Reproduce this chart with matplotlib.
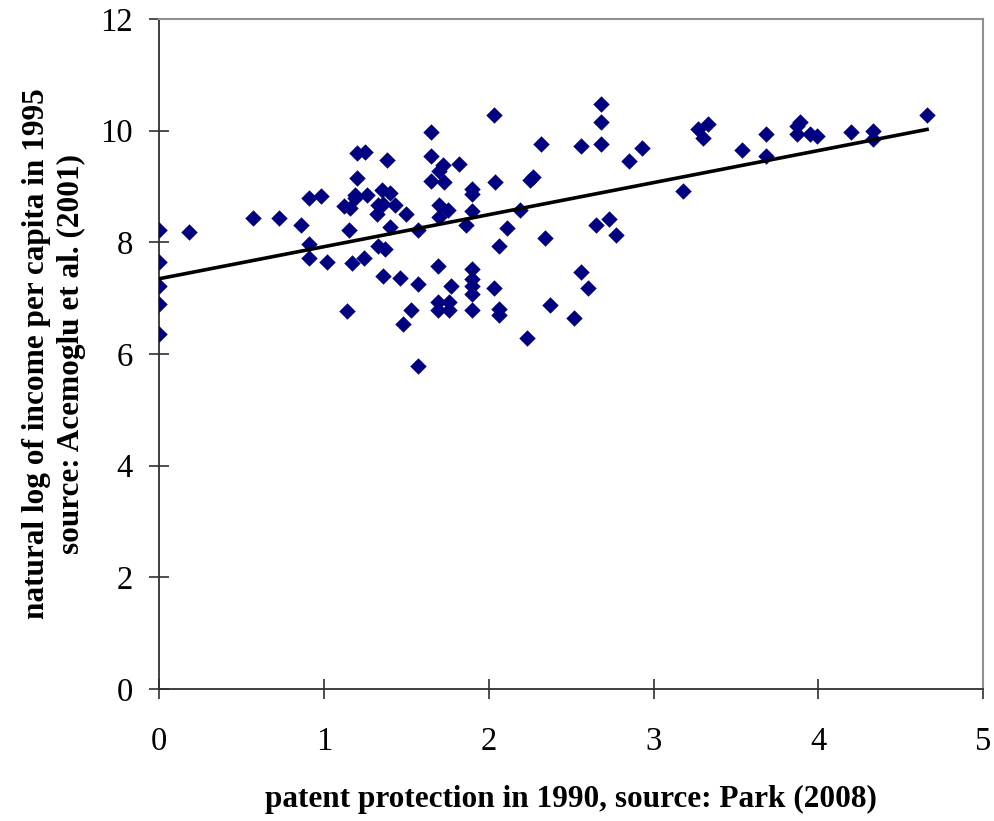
import numpy as np
import matplotlib
matplotlib.use('Agg')
import matplotlib.pyplot as plt

# Дані: індекс патентного захисту (1990) та лог доходу (1995)
patent_index = [
    0, 0, 0, 0, 0, 0.18, 0.57, 0.73, 0.86, 0.91, 0.98, 0.91, 0.91, 1.02,
    1.14, 1.15, 1.12, 1.16, 1.20, 1.20, 1.25, 1.38, 1.19, 1.19, 1.26, 1.35,
    1.40, 1.33, 1.36, 1.43, 1.32, 1.50, 1.40, 1.33, 1.37, 1.24, 1.17, 1.36,
    1.46, 1.53, 1.48, 1.57, 1.57, 1.57, 1.65, 1.65, 1.72, 1.70, 1.82, 1.65,
    1.73, 1.90, 1.90, 2.03, 2.04, 1.70, 1.75, 1.70, 1.90, 1.86, 2.11, 2.06,
    2.19, 2.25, 2.27, 2.32, 2.34, 2.56, 2.68, 2.68, 2.68, 2.85, 2.93, 2.65,
    2.73, 2.77, 1.69, 1.90, 1.90, 1.90, 1.90, 1.77, 2.03, 1.69, 1.76, 1.69,
    1.76, 1.90, 2.06, 2.06, 2.37, 2.56, 2.60, 2.52, 2.23, 3.18, 3.27, 3.33,
    3.30, 3.54, 3.68, 3.68, 3.89, 3.87, 3.87, 3.95, 3.99, 4.20, 4.33, 4.33,
    4.66,
]
log_income = [
    8.22, 7.65, 7.22, 6.90, 6.36, 8.18, 8.44, 8.44, 8.30, 8.79, 8.83, 7.97,
    7.72, 7.65, 6.76, 8.22, 8.65, 8.62, 9.15, 9.60, 9.62, 9.47, 8.85, 8.79,
    8.84, 8.93, 8.88, 8.67, 8.69, 8.66, 8.50, 8.51, 8.27, 7.94, 7.88, 7.72,
    7.62, 7.40, 7.36, 6.79, 6.54, 5.79, 7.25, 8.22, 9.98, 9.55, 9.39, 9.28,
    9.40, 9.09, 9.08, 8.96, 8.87, 10.27, 9.08, 8.66, 8.57, 8.45, 8.55, 8.30,
    8.26, 7.94, 8.58, 9.11, 9.17, 9.76, 8.08, 9.73, 10.48, 10.16, 9.76, 9.45,
    9.69, 8.30, 8.41, 8.12, 7.58, 7.52, 7.34, 7.22, 7.08, 7.22, 7.18, 6.93,
    6.93, 6.78, 6.78, 6.79, 6.81, 6.70, 6.87, 7.47, 7.18, 6.64, 6.29, 8.91,
    10.03, 10.12, 9.86, 9.66, 9.94, 9.54, 10.16, 10.09, 9.94, 9.94, 9.90,
    9.98, 10.00, 9.85, 10.27,
]

x = np.array(patent_index)
y = np.array(log_income)

plt.rcParams['font.family'] = ['Liberation Serif', 'DejaVu Serif']

fig = plt.figure(figsize=(9.95, 8.21), dpi=100)
ax = fig.add_axes([0.160, 0.161, 0.828, 0.816])

ax.scatter(x, y, marker='D', s=70, color='#000080', zorder=3, linewidths=0)

# Лінійний тренд
slope, intercept = np.polyfit(x, y, 1)
x_line = np.array([x.min(), x.max()])
ax.plot(x_line, intercept + slope * x_line, color='black', lw=2.6, zorder=4)

ax.set_xlim(0, 5)
ax.set_ylim(0, 12)
ax.set_xticks(range(0, 6))
ax.set_yticks(range(0, 13, 2))

for side in ('top', 'right'):
    ax.spines[side].set_color('#909090')
    ax.spines[side].set_linewidth(1.5)
for side in ('left', 'bottom'):
    ax.spines[side].set_color('#303030')
    ax.spines[side].set_linewidth(1.3)

ax.tick_params(direction='inout', length=14, width=1.2, color='#303030',
               labelsize=23.5)
ax.tick_params(axis='x', pad=20)
ax.tick_params(axis='y', pad=12)

ax.set_xlabel('patent protection in 1990, source: Park (2008)',
              fontsize=22.5, fontweight='bold', labelpad=20)
ax.set_ylabel('natural log of income per capita in 1995\nsource: Acemoglu et al. (2001)',
              fontsize=22.5, fontweight='bold', labelpad=10, linespacing=1.3)

fig.savefig('out.png', dpi=100)
